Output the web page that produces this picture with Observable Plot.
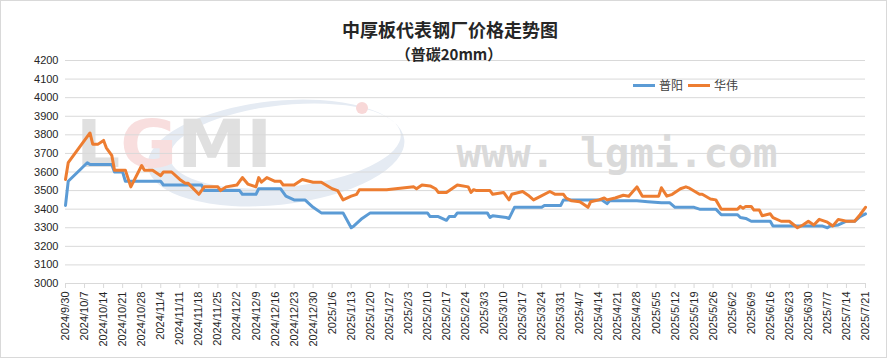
<!DOCTYPE html>
<html><head><meta charset="utf-8">
<script src="https://cdn.jsdelivr.net/npm/d3@7"></script>
<script src="https://cdn.jsdelivr.net/npm/@observablehq/plot@0.6"></script>
<style>
body{margin:0;background:#fff;}
#wrap{position:relative;width:887px;height:358px;overflow:hidden;font-family:"Noto Sans CJK SC","Noto Sans",sans-serif;background:#fff;}
#chart{position:absolute;left:0;top:0;}
#frame{position:absolute;left:0;top:0;width:887px;height:358px;box-sizing:border-box;border:1px solid #d9d9d9;pointer-events:none;}
#title{position:absolute;left:0;width:900px;top:18px;text-align:center;font-size:18px;font-weight:bold;color:#262626;line-height:22px;}
#subtitle{position:absolute;left:0;width:898px;top:44px;text-align:center;font-size:15px;font-weight:bold;color:#262626;line-height:20px;}
#legend{position:absolute;left:633px;top:76px;font-size:12px;color:#404040;display:flex;align-items:center;line-height:18px;}
.sw{display:inline-block;width:22px;height:3px;margin-right:4px;}
.lg{margin-right:5px;}
</style>
</head><body>
<div id="wrap">
  <div id="chart"></div>
  <div id="title">中厚板代表钢厂价格走势图</div>
  <div id="subtitle">（普碳20mm）</div>
  <div id="legend"><span class="sw" style="background:#5b9bd5"></span><span class="lg">普阳</span><span class="sw" style="background:#ed7d31"></span><span>华伟</span></div>
  <div id="frame"></div>
</div>
<script>
// ---- data ----
const seriesNames = ["普阳", "华伟"];
const seriesColors = ["#5b9bd5", "#ed7d31"];

const puyangDates = ["2024-09-30","2024-10-01","2024-10-08","2024-10-09","2024-10-17","2024-10-18","2024-10-21","2024-10-22","2024-11-04","2024-11-05","2024-11-19","2024-11-20","2024-12-03","2024-12-04","2024-12-09","2024-12-10","2024-12-18","2024-12-20","2024-12-23","2024-12-27","2024-12-30","2025-01-02","2025-01-10","2025-01-13","2025-01-14","2025-01-17","2025-01-20","2025-02-10","2025-02-11","2025-02-14","2025-02-17","2025-02-18","2025-02-20","2025-02-21","2025-03-04","2025-03-05","2025-03-06","2025-03-11","2025-03-12","2025-03-14","2025-03-24","2025-03-25","2025-03-31","2025-04-01","2025-04-15","2025-04-17","2025-04-18","2025-04-28","2025-05-02","2025-05-07","2025-05-10","2025-05-12","2025-05-19","2025-05-21","2025-05-27","2025-05-29","2025-06-04","2025-06-05","2025-06-07","2025-06-09","2025-06-16","2025-06-17","2025-07-05","2025-07-07","2025-07-08","2025-07-11","2025-07-14","2025-07-17","2025-07-19","2025-07-21"];
const puyangValues = [3420,3550,3650,3640,3640,3600,3600,3550,3550,3530,3530,3500,3500,3480,3480,3510,3510,3470,3450,3450,3410,3380,3380,3300,3310,3350,3380,3380,3360,3360,3340,3360,3360,3380,3380,3355,3365,3355,3350,3410,3410,3420,3420,3450,3450,3430,3445,3445,3440,3435,3435,3410,3410,3400,3400,3370,3370,3355,3350,3335,3335,3310,3310,3300,3310,3315,3335,3335,3360,3375];

const huaweiDates = ["2024-09-30","2024-10-01","2024-10-09","2024-10-10","2024-10-12","2024-10-14","2024-10-15","2024-10-17","2024-10-18","2024-10-22","2024-10-24","2024-10-28","2024-10-29","2024-11-01","2024-11-04","2024-11-05","2024-11-08","2024-11-11","2024-11-13","2024-11-14","2024-11-18","2024-11-20","2024-11-25","2024-11-26","2024-11-28","2024-12-02","2024-12-04","2024-12-06","2024-12-09","2024-12-10","2024-12-11","2024-12-13","2024-12-16","2024-12-18","2024-12-19","2024-12-23","2024-12-26","2024-12-30","2025-01-02","2025-01-06","2025-01-08","2025-01-10","2025-01-13","2025-01-15","2025-01-16","2025-01-26","2025-02-05","2025-02-06","2025-02-08","2025-02-11","2025-02-13","2025-02-14","2025-02-17","2025-02-19","2025-02-21","2025-02-25","2025-02-26","2025-02-27","2025-02-28","2025-03-05","2025-03-06","2025-03-10","2025-03-12","2025-03-13","2025-03-17","2025-03-19","2025-03-21","2025-03-23","2025-03-27","2025-03-29","2025-04-01","2025-04-02","2025-04-04","2025-04-07","2025-04-08","2025-04-10","2025-04-11","2025-04-14","2025-04-16","2025-04-17","2025-04-20","2025-04-23","2025-04-25","2025-04-28","2025-04-30","2025-05-06","2025-05-07","2025-05-09","2025-05-11","2025-05-14","2025-05-16","2025-05-17","2025-05-21","2025-05-22","2025-05-25","2025-05-27","2025-05-29","2025-06-04","2025-06-05","2025-06-06","2025-06-07","2025-06-09","2025-06-10","2025-06-12","2025-06-13","2025-06-16","2025-06-17","2025-06-20","2025-06-23","2025-06-26","2025-06-28","2025-06-30","2025-07-02","2025-07-04","2025-07-07","2025-07-09","2025-07-11","2025-07-14","2025-07-17","2025-07-19","2025-07-21"];
const huaweiValues = [3560,3650,3810,3750,3750,3770,3730,3690,3610,3610,3520,3635,3610,3610,3580,3600,3600,3560,3540,3540,3480,3520,3520,3500,3520,3530,3570,3535,3520,3570,3545,3570,3550,3550,3530,3530,3560,3545,3545,3510,3500,3450,3470,3480,3505,3505,3520,3510,3530,3525,3510,3490,3490,3510,3530,3520,3490,3505,3500,3500,3480,3490,3450,3480,3495,3475,3450,3465,3495,3480,3480,3460,3445,3440,3430,3410,3440,3450,3460,3450,3460,3475,3470,3520,3470,3470,3515,3470,3480,3510,3520,3515,3480,3480,3455,3450,3400,3400,3415,3405,3415,3415,3395,3395,3365,3375,3355,3335,3335,3300,3315,3335,3315,3345,3330,3310,3345,3335,3335,3370,3410];

const xTickLabels = ["2024/9/30","2024/10/7","2024/10/14","2024/10/21","2024/10/28","2024/11/4","2024/11/11","2024/11/18","2024/11/25","2024/12/2","2024/12/9","2024/12/16","2024/12/23","2024/12/30","2025/1/6","2025/1/13","2025/1/20","2025/1/27","2025/2/3","2025/2/10","2025/2/17","2025/2/24","2025/3/3","2025/3/10","2025/3/17","2025/3/24","2025/3/31","2025/4/7","2025/4/14","2025/4/21","2025/4/28","2025/5/5","2025/5/12","2025/5/19","2025/5/26","2025/6/2","2025/6/9","2025/6/16","2025/6/23","2025/6/30","2025/7/7","2025/7/14","2025/7/21"];
const yTicks = [3000,3100,3200,3300,3400,3500,3600,3700,3800,3900,4000,4100,4200];

// ---- build ----
const parseTick = d3.utcParse("%Y/%m/%d");
const xTicks = xTickLabels.map(parseTick);
const fmt = d => `${d.getUTCFullYear()}/${d.getUTCMonth()+1}/${d.getUTCDate()}`;
const puyang = puyangDates.map((d,i) => ({date: new Date(d), value: puyangValues[i], series: seriesNames[0]}));
const huawei = huaweiDates.map((d,i) => ({date: new Date(d), value: huaweiValues[i], series: seriesNames[1]}));

function ellipsePath(cx, cy, rx, ry) {
  return `M${cx-rx},${cy}a${rx},${ry} 0 1,0 ${2*rx},0a${rx},${ry} 0 1,0 ${-2*rx},0Z`;
}
function watermark(index, scales, values, dim) {
  const g = d3.create("svg:g").attr("pointer-events", "none");
  // LGMI logo swoosh (decoration)
  g.append("path")
    .attr("fill", "#e5ebf3").attr("fill-rule", "evenodd")
    .attr("d", ellipsePath(276,153,129,52) + ellipsePath(286,147,116,41))
    .attr("transform", "rotate(-6 276 153)");
  const t = g.append("text").attr("x", 174).attr("y", 167)
    .attr("font-family", "DejaVu Sans, sans-serif").attr("font-weight", "bold")
    .attr("font-size", 66).attr("textLength", 196).attr("lengthAdjust", "spacingAndGlyphs");
  t.append("tspan").attr("fill", "#e0e0e0").text("L");
  t.append("tspan").attr("fill", "#f8dede").text("G");
  t.append("tspan").attr("fill", "#e0e0e0").text("M");
  t.append("tspan").attr("fill", "#e0e0e0").text("I");
  g.append("circle").attr("cx", 362).attr("cy", 108).attr("r", 6).attr("fill", "#f8d8d8");
  g.append("text").attr("x", 617).attr("y", 167).attr("text-anchor", "middle")
    .attr("font-family", "DejaVu Sans Mono, monospace").attr("font-weight", "bold")
    .attr("font-size", 41).attr("fill", "#dadada").text("www. lgmi.com");
  return g.node();
}

const chart = Plot.plot({
  width: 887,
  height: 358,
  marginLeft: 65,
  marginRight: 22,
  marginTop: 60,
  marginBottom: 75,
  style: {fontFamily: "Liberation Sans, Arial, sans-serif", fontSize: "11px", background: "transparent", color: "#404040"},
  x: {type: "utc", domain: [xTicks[0], xTicks[xTicks.length-1]]},
  y: {domain: [3000, 4200]},
  marks: [
    watermark,
    Plot.gridY(yTicks, {stroke: "#d9d9d9", strokeOpacity: 1, strokeWidth: 1}),
    Plot.ruleY([3000], {stroke: "#d9d9d9", strokeWidth: 1}),
    Plot.axisY(yTicks, {tickSize: 0, tickPadding: 7, label: null, fill: "#262626", fontSize: 11, tickFormat: d => String(d)}),
    Plot.axisX(xTicks, {tickFormat: fmt, tickRotate: -90, tickSize: 5, tickPadding: 3, label: null, stroke: "#d9d9d9", fill: "#262626", fontSize: 11}),
    Plot.line(puyang, {x: "date", y: "value", stroke: seriesColors[0], strokeWidth: 3, strokeLinejoin: "round"}),
    Plot.line(huawei, {x: "date", y: "value", stroke: seriesColors[1], strokeWidth: 3, strokeLinejoin: "round"})
  ]
});
document.getElementById("chart").appendChild(chart);
</script>
</body></html>
